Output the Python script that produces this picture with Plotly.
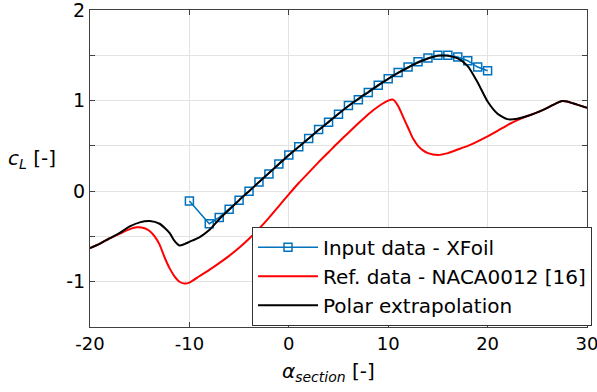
import plotly.graph_objects as go

# Input data - XFoil
xfoil_alpha = [-10, -8, -7, -6, -5, -4, -3, -2, -1, 0, 1, 2, 3, 4, 5, 6, 7, 8, 9, 10,
               11, 12, 13, 14, 15, 16, 17, 18, 19, 20]
xfoil_cl = [-0.11, -0.36, -0.29, -0.20, -0.10, 0.0, 0.10, 0.19, 0.30, 0.40, 0.49, 0.58,
            0.68, 0.76, 0.85, 0.945, 1.01, 1.09, 1.17, 1.24, 1.31, 1.37, 1.43, 1.47,
            1.50, 1.50, 1.48, 1.44, 1.37, 1.33]

# Ref. data - NACA0012 [16]
ref_alpha = [-20, -19, -18, -17, -16, -15.3, -14.5, -14, -13.5, -13, -12.5, -12, -11.5,
             -11, -10.5, -10, -9, -8, -7, -6, -5, -4, -3, -2, -1, 0, 1, 2, 3, 4, 5, 6,
             7, 8, 9, 10, 10.5, 11, 11.5, 12, 12.5, 13, 13.5, 14, 15, 16, 17, 18, 19,
             20, 21, 22, 23, 24, 25, 26, 27, 27.5, 28, 29, 30]
ref_cl = [-0.63, -0.58, -0.52, -0.47, -0.42, -0.40, -0.41, -0.44, -0.50, -0.59, -0.73,
          -0.85, -0.94, -1.0, -1.02, -1.01, -0.94, -0.87, -0.795, -0.715, -0.625, -0.525,
          -0.415, -0.295, -0.165, -0.035, 0.09, 0.205, 0.32, 0.43, 0.54, 0.645, 0.75,
          0.85, 0.935, 1.0, 1.01, 0.94, 0.82, 0.70, 0.58, 0.50, 0.45, 0.42, 0.40, 0.42,
          0.46, 0.50, 0.55, 0.605, 0.665, 0.73, 0.785, 0.83, 0.87, 0.92, 0.975, 0.995,
          0.99, 0.955, 0.92]

# Polar extrapolation
pol_alpha = [-20, -19, -18, -17, -16, -15, -14, -13, -12, -11.5, -11, -10.5, -10, -9,
             -8, -7, -6, -5, -4, -3, -2, -1, 0, 1, 2, 3, 4, 5, 6, 7, 8, 9, 10, 11, 12,
             13, 14, 15, 16, 17, 18, 19, 20, 21, 22, 23, 24, 25, 26, 27, 27.5, 28, 29, 30]
pol_cl = [-0.63, -0.58, -0.52, -0.46, -0.39, -0.345, -0.33, -0.36, -0.46, -0.55, -0.60,
          -0.585, -0.56, -0.51, -0.43, -0.31, -0.205, -0.10, 0.0, 0.10, 0.20, 0.30,
          0.40, 0.49, 0.58, 0.675, 0.765, 0.855, 0.94, 1.02, 1.095, 1.17, 1.24, 1.305,
          1.365, 1.42, 1.465, 1.495, 1.495, 1.465, 1.38, 1.20, 0.99, 0.855, 0.795,
          0.80, 0.83, 0.87, 0.92, 0.975, 0.995, 0.99, 0.955, 0.92]

x_ticks = [-20, -10, 0, 10, 20, 30]
x_tick_text = ["-20", "-10", "0", "10", "20", "30"]
y_ticks = [-1, 0, 1, 2]
y_tick_text = ["-1", "0", "1", "2"]
y_minor_step = 0.5

FONT = "DejaVu Sans"

fig = go.Figure()
fig.add_trace(go.Scatter(
    x=xfoil_alpha, y=xfoil_cl, mode="lines+markers", name="Input data - XFoil",
    legendgroup="a",
    line=dict(color="#0072BD", width=1.5),
    marker=dict(symbol="square-open", size=8, color="#0072BD", line=dict(width=1.5)),
))
fig.add_trace(go.Scatter(
    x=ref_alpha, y=ref_cl, mode="lines", name="Ref. data - NACA0012 [16]",
    legendgroup="b",
    line=dict(color="#FF0000", width=2, shape="spline", smoothing=0.6),
))
fig.add_trace(go.Scatter(
    x=pol_alpha, y=pol_cl, mode="lines", name="Polar extrapolation",
    legendgroup="c",
    line=dict(color="#000000", width=2, shape="spline", smoothing=0.6),
))

axis_common = dict(
    showgrid=True, gridcolor="#e3e3e3", gridwidth=1,
    showline=True, linecolor="#404040", linewidth=1, mirror="ticks",
    ticks="inside", ticklen=5, tickcolor="#404040",
    zeroline=False, ticklabeloverflow="allow",
)

fig.update_xaxes(range=[-20, 30], tickmode="array", tickvals=x_ticks,
                 ticktext=x_tick_text, tickfont=dict(family=FONT, size=18, color="black"),
                 **axis_common)
fig.update_yaxes(range=[-1.5, 2], tickmode="array", tickvals=y_ticks,
                 ticktext=y_tick_text, tickfont=dict(family=FONT, size=19, color="black"),
                 minor=dict(dtick=y_minor_step, showgrid=True, gridcolor="#e3e3e3",
                            ticks="inside", ticklen=5, tickcolor="#404040"),
                 **axis_common)

fig.update_layout(
    width=597, height=392,
    margin=dict(l=90, r=10, t=10, b=65, autoexpand=False),
    plot_bgcolor="white", paper_bgcolor="white",
    font=dict(family=FONT, size=19, color="black"),
    legend=dict(x=0.326, y=0.004, xanchor="left", yanchor="bottom",
                bgcolor="white", bordercolor="#333333", borderwidth=1,
                traceorder="grouped", tracegroupgap=0, itemwidth=60,
                font=dict(family=FONT, size=20)),
    annotations=[
        dict(text="<i>c</i><sub><i>L</i></sub> [-]", xref="paper", yref="paper",
             x=-0.17, y=0.53, xanchor="left", yanchor="middle", showarrow=False,
             font=dict(family=FONT, size=20)),
        dict(text="<i>α</i><sub><i>section</i></sub> [-]", xref="paper", yref="paper",
             x=0.48, y=-0.142, xanchor="center", yanchor="middle", showarrow=False,
             font=dict(family=FONT, size=20)),
    ],
)

fig.write_html("out.html")
